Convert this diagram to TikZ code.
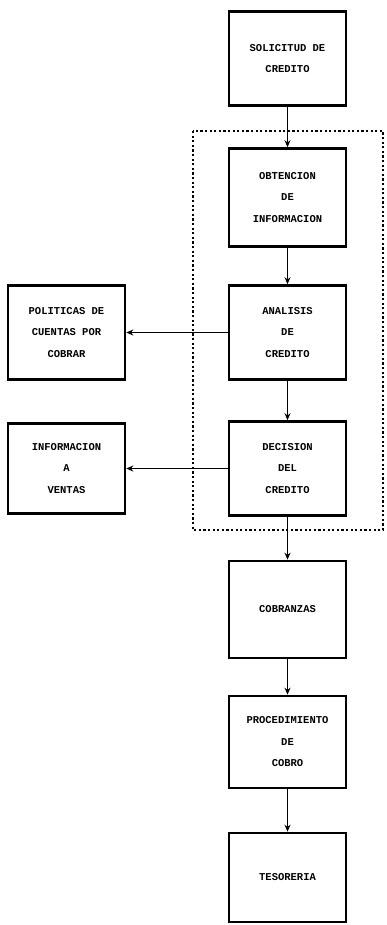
\documentclass[tikz,border=0pt]{standalone}
\usepackage{fontspec}
\setmonofont{Liberation Mono}
\usetikzlibrary{arrows.meta}
\tikzset{
	caja/.style={draw,line width=2.6pt,minimum width=117pt,minimum height=94pt,
		align=center,font=\ttfamily\bfseries\fontsize{10.5}{21.5}\selectfont},
	flecha/.style={-{Stealth[length=7pt,width=6pt]},line width=1.9pt}
}
\begin{document}
\begin{tikzpicture}[x=1pt,y=-1pt]
			\useasboundingbox (0,0) rectangle (386,925);
			\draw[line width=1.6pt,dash pattern=on 2.2pt off 2.4pt](193,131) rectangle (383,530);
			\node[caja] (sol) at (287.5,58.5) {SOLICITUD DE\\CREDITO};
			\node[caja,minimum height=98pt] (obt) at (287.5,197.5) {OBTENCION\\DE\\INFORMACION};
			\node[caja] (ana) at (287.5,332.5) {ANALISIS\\DE\\CREDITO};
			\node[caja] (dec) at (287.5,468.5) {DECISION\\DEL\\CREDITO};
			\node[caja,minimum height=97pt] (cob) at (287.5,609.5) {COBRANZAS};
			\node[caja,minimum height=92pt] (pro) at (287.5,742) {PROCEDIMIENTO\\DE\\COBRO};
			\node[caja,minimum height=89pt] (tes) at (287.5,877.5) {TESORERIA};
			\node[caja] (pol) at (66.5,332.5) {POLITICAS DE\\CUENTAS POR\\COBRAR};
			\node[caja,minimum height=90pt] (inf) at (66.5,468.5) {INFORMACION\\A\\VENTAS};
			\draw[flecha] (sol)--(obt);
			\draw[flecha] (obt)--(ana);
			\draw[flecha] (ana)--(dec);
			\draw[flecha] (dec)--(cob);
			\draw[flecha] (cob)--(pro);
			\draw[flecha] (pro)--(tes);
			\draw[flecha] (ana)--(pol);
			\draw[flecha] (dec)--(inf);
		\end{tikzpicture}
\end{document}
